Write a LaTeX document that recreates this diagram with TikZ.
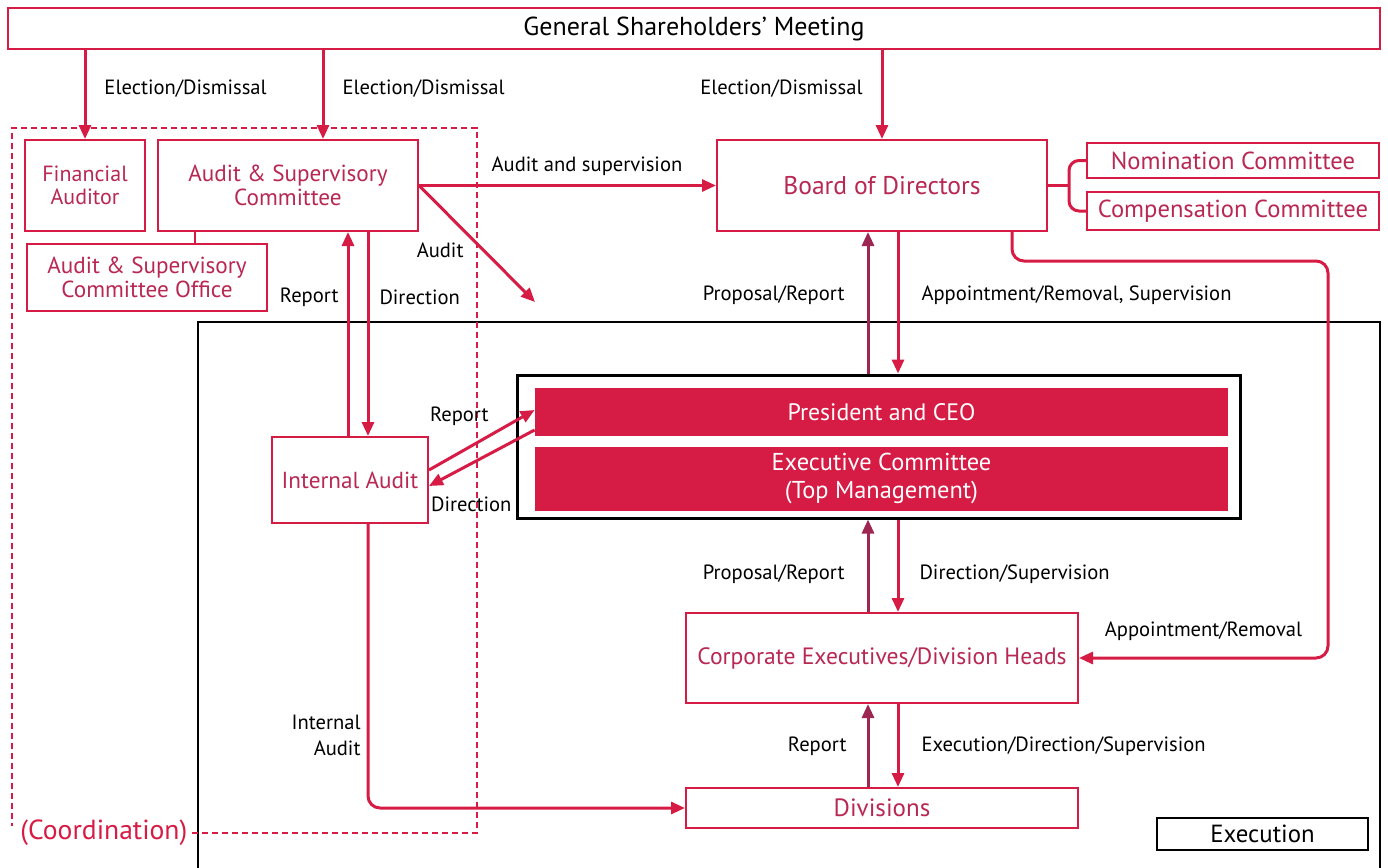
\documentclass[tikz,border=0pt]{standalone}
\usepackage{fontspec}
\setmainfont{PT Sans}
\usetikzlibrary{arrows.meta,positioning}
\definecolor{crim}{RGB}{214,27,68}
\definecolor{boxtxt}{RGB}{184,40,82}
\definecolor{darkcrim}{RGB}{158,38,82}
\tikzset{
  box/.style={draw=crim, line width=1pt, fill=white, text=boxtxt, align=center, inner sep=0pt, font=\fontsize{11.6}{11.8}\selectfont},
  solid box/.style={fill=crim, text=white, align=center, inner sep=0pt, font=\fontsize{12.2}{14}\selectfont},
  lbl/.style={inner sep=0pt, text=black, font=\fontsize{10.3}{13}\selectfont},
  arr/.style={draw=crim, line width=1.5pt, -{Triangle[length=7pt,width=6pt]}},
  uparr/.style={arr, draw=darkcrim},
  link/.style={draw=crim, line width=1.5pt}
}
\begin{document}
\begin{tikzpicture}[x=0.5pt,y=-0.5pt]
\useasboundingbox (0,0) rectangle (1388,868);
\draw[line width=0.6pt] (198,868) -- (198,322) -- (1380,322) -- (1380,868);
\node[lbl, text=crim, font=\fontsize{13.8}{15}\selectfont, anchor=west, inner xsep=2pt] (coord) at (16,833) {(Coordination)};
\draw[crim, line width=0.7pt, dash pattern=on 3pt off 2pt] (coord.east) -- (477,833) -- (477,128) -- (12,128) -- (12,826);

\node[box, minimum width=686pt, minimum height=20.5pt, text=black, font=\fontsize{13}{15}\selectfont] (gsm) at (694,28.5) {General Shareholders' Meeting};
\node[box, minimum width=60pt, minimum height=45.5pt, font=\fontsize{11}{11.8}\selectfont] (fa) at (85,185.5) {Financial\\Auditor};
\node[box, minimum width=130pt, minimum height=45.5pt] (asc) at (288,185.5) {Audit \& Supervisory\\Committee};
\node[box, minimum width=120pt, minimum height=33.5pt] (asco) at (147,277.5) {Audit \& Supervisory\\Committee Office};
\node[box, minimum width=165pt, minimum height=45.5pt, font=\fontsize{12.8}{14}\selectfont] (bod) at (882,185.5) {Board of Directors};
\node[box, minimum width=146pt, minimum height=17.5pt, font=\fontsize{12.3}{14}\selectfont] (nom) at (1233,160.5) {Nomination Committee};
\node[box, minimum width=146pt, minimum height=19pt, below=6pt of nom, font=\fontsize{12.3}{14}\selectfont] (comp) {Compensation Committee};
\node[box, minimum width=78pt, minimum height=43pt] (ia) at (350,480) {Internal Audit};
\node[draw, line width=1.5pt, minimum width=361.5pt, minimum height=71.5pt, inner sep=0pt] (top) at (878.5,446.5) {};
\node[solid box, minimum width=346.5pt, minimum height=24pt, font=\fontsize{11.9}{14}\selectfont] (pres) at (881.5,412) {President and CEO};
\node[solid box, minimum width=346.5pt, minimum height=32pt, below=5pt of pres] (exec) {Executive Committee\\(Top Management)};
\node[box, minimum width=196pt, minimum height=45pt, font=\fontsize{11.8}{14}\selectfont] (cedh) at (882,658) {Corporate Executives/Division Heads};
\node[box, minimum width=196pt, minimum height=20pt, font=\fontsize{12.5}{14}\selectfont] (div) at (882,808) {Divisions};
\node[draw, line width=0.8pt, minimum width=105.5pt, minimum height=16pt, inner sep=0pt, font=\fontsize{12.4}{14}\selectfont] (exe) at (1262.5,834) {Execution};

\coordinate (ascin) at ([xshift=17.5pt]asc.north);
\coordinate (asclk) at ([xshift=-46.5pt]asc.south);
\coordinate (iarep) at ([xshift=-1pt]ia.north);
\coordinate (iadir) at ([xshift=9pt]ia.north);
\coordinate (audtip) at (535,302);
\coordinate (brk) at ([xshift=10.5pt]bod.east);
\coordinate (bapp) at ([xshift=65pt]bod.south);
\coordinate (bodup) at ([xshift=-7pt]bod.south);
\coordinate (boddn) at ([xshift=8pt]bod.south);
\coordinate (cedhup) at ([xshift=-7pt]cedh.north);
\coordinate (cedhdn) at ([xshift=8pt]cedh.north);
\coordinate (divup) at ([xshift=-7pt]div.north);
\coordinate (divdn) at ([xshift=8pt]div.north);

\draw[arr] (fa.north |- gsm.south) -- node[lbl, pos=0.43, right=9pt] {Election/Dismissal} (fa.north);
\draw[arr] (ascin |- gsm.south) -- node[lbl, pos=0.43, right=9pt] {Election/Dismissal} (ascin);
\draw[arr] (bod.north |- gsm.south) -- node[lbl, pos=0.43, left=9pt] {Election/Dismissal} (bod.north);
\draw[link, line width=1.2pt] (asclk) -- (asclk |- asco.north);
\draw[arr] (asc.east) -- node[lbl, midway, above=4pt, xshift=9.75pt] {Audit and supervision} (bod.west);
\draw[arr] (asc.east) -- node[lbl, midway, left=6pt, yshift=-3.5pt] {Audit} (audtip);
\draw[link] (bod.east) -- (brk);
\draw[link, rounded corners=5pt] (nom.west) -| (brk) |- (comp.west);

\draw[arr] (iarep) -- node[lbl, pos=0.68, left=4pt] {Report} (iarep |- asc.south);
\draw[arr] (iadir |- asc.south) -- node[lbl, pos=0.32, right=5pt] {Direction} (iadir);
\draw[arr] ([yshift=5pt]ia.east) -- node[lbl, pos=0.9, left=17pt] {Report} ([yshift=1pt]pres.west);
\draw[arr] ([yshift=-9pt]pres.west) -- node[lbl, pos=0.6, below=16pt] {Direction} ([yshift=-3pt]ia.east);
\draw[arr, rounded corners=6pt] (iadir |- ia.south) |- node[lbl, pos=0.372, left=3pt, align=right] {Internal\\Audit} (div.west);

\draw[uparr] (bodup |- top.north) -- node[lbl, pos=0.55, left=11pt] {Proposal/Report} (bodup);
\draw[arr] (boddn) -- node[lbl, pos=0.45, right=11pt] {Appointment/Removal, Supervision} (boddn |- top.north);
\draw[arr, rounded corners=6pt] (bapp) -- ++(0,29) -- ++(316,0) |- node[lbl, pos=0.75, above=8pt] {Appointment/Removal} (cedh.east);

\draw[uparr] (cedhup) -- node[lbl, pos=0.41, left=11pt] {Proposal/Report} (cedhup |- top.south);
\draw[arr] (cedhdn |- top.south) -- node[lbl, pos=0.59, right=10pt] {Direction/Supervision} (cedhdn);
\draw[uparr] (divup) -- node[lbl, pos=0.49, left=10pt] {Report} (divup |- cedh.south);
\draw[arr] (divdn |- cedh.south) -- node[lbl, pos=0.51, right=11pt] {Execution/Direction/Supervision} (divdn);
\end{tikzpicture}
\end{document}
